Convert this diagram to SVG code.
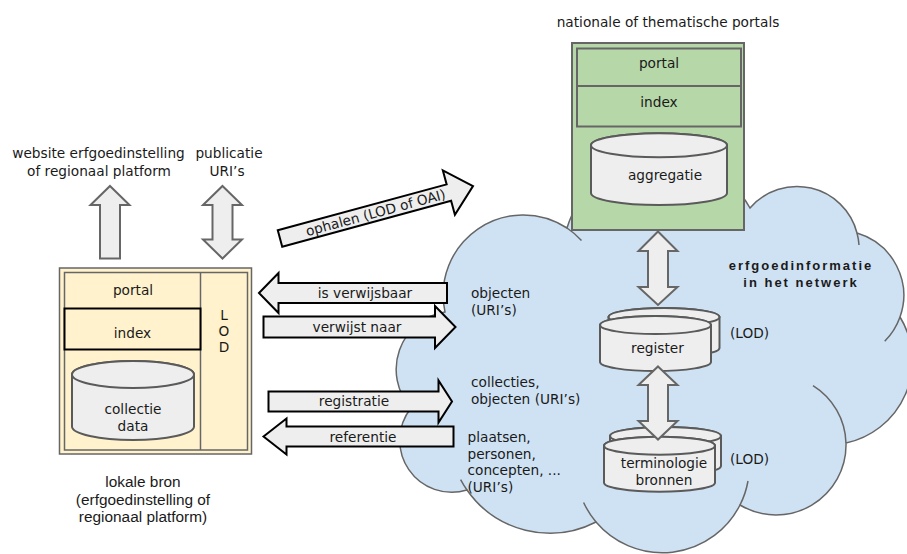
<svg xmlns="http://www.w3.org/2000/svg" width="907" height="554" viewBox="0 0 907 554">
<style>
.t{font-family:"DejaVu Sans",Verdana,sans-serif;font-size:13.7px;fill:#1a1a1a}
.a{font-family:"Liberation Sans",Arial,sans-serif;fill:#1a1a1a}
.c{text-anchor:middle}
.cloud{fill:#cfe2f3;stroke:#666;stroke-width:1.5}
.stub{fill:none;stroke:#666;stroke-width:1.5}
.garrow{fill:#eeeeee;stroke:#666;stroke-width:2;stroke-linejoin:miter}
.barrow{fill:#eeeeee;stroke:#000;stroke-width:2;stroke-linejoin:miter}
.cyl{fill:#eeeeee;stroke:#5a5a5a;stroke-width:2}
.green{fill:#b6d7a8;stroke:#666;stroke-width:2}
.cream{fill:#fff2cc;stroke:#666;stroke-width:1.5}
</style>
<rect width="907" height="554" fill="#fff"/>

<g id="cloud">
<path class="cloud" d="M445,312 A80,80 0 0 1 567,228 A100,100 0 0 1 750,208 A62,62 0 0 1 857,233 A65,65 0 0 1 900,317 A84,84 0 0 1 846,443 A70,70 0 0 1 740,505 A87,87 0 0 1 596,522 A101,101 0 0 1 467,490 A52,52 0 0 1 411,408 A58,58 0 0 1 445,312 Z"/>
<path class="stub" d="M567,228 A80,80 0 0 1 581.5,240.5 M857,233 A62,62 0 0 1 859,245 M900,317 A65,65 0 0 1 884.7,341.3 M813,385.6 A70,70 0 0 1 846,443 M748,481 A87,87 0 0 1 740,505 M596,522 A87,87 0 0 1 583.6,502.5 M467,490 A101,101 0 0 1 460.6,479.6"/>
<text class="a c" x="801" y="270" style="font-size:13px;font-weight:bold;letter-spacing:2px">erfgoedinformatie</text>
<text class="a c" x="801" y="287" style="font-size:13px;font-weight:bold;letter-spacing:2px">in het netwerk</text>
<text class="t" x="471" y="298">objecten</text>
<text class="t" x="471" y="314.5">(URI’s)</text>
<text class="t" x="471" y="387">collecties,</text>
<text class="t" x="471" y="403.5">objecten (URI’s)</text>
<text class="t" x="467.5" y="442">plaatsen,</text>
<text class="t" x="467.5" y="458.7">personen,</text>
<text class="t" x="467.5" y="475.3">concepten, ...</text>
<text class="t" x="467.5" y="492">(URI’s)</text>
<text class="t" x="730" y="337.5">(LOD)</text>
<text class="t" x="730" y="464">(LOD)</text>
</g>

<g id="portals">
<text class="t c" x="668" y="27">nationale of thematische portals</text>
<rect class="green" x="572" y="43" width="172" height="187"/>
<rect class="green" x="577" y="48.5" width="164" height="37.5"/>
<rect class="green" x="577" y="86" width="164" height="40.5"/>
<path class="cyl" d="M591,145.3 V193 A68,12 0 0 0 727,193 V145.3 A68,12 0 0 0 591,145.3 Z"/>
<ellipse class="cyl" cx="659" cy="145.3" rx="68" ry="12"/>
<text class="t c" x="659" y="68">portal</text>
<text class="t c" x="659" y="107">index</text>
<text class="t c" x="665" y="180">aggregatie</text>
</g>

<g id="lokale-bron">
<rect class="cream" x="59.5" y="268" width="192" height="186"/>
<rect class="cream" x="64.5" y="272.5" width="183" height="177.5"/>
<line x1="200.5" y1="272.5" x2="200.5" y2="450" stroke="#666" stroke-width="1.5"/>
<rect x="64.5" y="308.5" width="136" height="41" fill="#fff2cc" stroke="#000" stroke-width="2"/>
<path class="cyl" d="M72,374.5 V426.5 A61,13.5 0 0 0 194,426.5 V374.5 A61,13.5 0 0 0 72,374.5 Z"/>
<ellipse class="cyl" cx="133" cy="374.5" rx="61" ry="13.5"/>
<text class="t c" x="133" y="295">portal</text>
<text class="t c" x="132.5" y="337.5">index</text>
<text class="t c" x="133" y="414">collectie</text>
<text class="t c" x="133" y="431">data</text>
<text class="t c" x="224" y="320">L</text>
<text class="t c" x="224" y="336">O</text>
<text class="t c" x="224" y="352">D</text>
<text class="a c" x="143" y="487" style="font-size:15.4px">lokale bron</text>
<text class="a c" x="143" y="504.5" style="font-size:15.4px">(erfgoedinstelling of</text>
<text class="a c" x="143" y="522" style="font-size:15.4px">regionaal platform)</text>
</g>

<g id="website">
<text class="t c" x="98.5" y="158">website erfgoedinstelling</text>
<text class="t c" x="99" y="175.7">of regionaal platform</text>
</g>
<g id="publicatie">
<text class="t c" x="229" y="158">publicatie</text>
<text class="t c" x="227" y="175.7">URI’s</text>
</g>

<g id="register">
<path class="cyl" d="M608.5,317 V348 A55.5,9 0 0 0 719.5,348 V317 A55.5,9 0 0 0 608.5,317 Z"/>
<ellipse class="cyl" cx="664" cy="317" rx="55.5" ry="9"/>
<path class="cyl" d="M600,325 V362 A55.5,9 0 0 0 711,362 V325 A55.5,9 0 0 0 600,325 Z"/>
<ellipse class="cyl" cx="655.5" cy="325" rx="55.5" ry="9"/>
<text class="t c" x="657.5" y="353">register</text>
</g>

<g id="terminologie">
<path class="cyl" d="M610,436 V466 A55.5,9 0 0 0 721,466 V436 A55.5,9 0 0 0 610,436 Z"/>
<ellipse class="cyl" cx="665.5" cy="436" rx="55.5" ry="9"/>
<path class="cyl" d="M604,445.7 V482.7 A55.5,9 0 0 0 715,482.7 V445.7 A55.5,9 0 0 0 604,445.7 Z"/>
<ellipse class="cyl" cx="659.5" cy="445.7" rx="55.5" ry="9"/>
<text class="t c" x="664" y="468.3">terminologie</text>
<text class="t c" x="664" y="485">bronnen</text>
</g>

<g id="connectors">
<polygon class="garrow" points="110,186 129.5,205 120,205 120,258.5 100,258.5 100,205 90.5,205"/>
<polygon class="garrow" points="222.5,186 242,205 232.5,205 232.5,239.5 242,239.5 222.5,258.5 203,239.5 212.5,239.5 212.5,205 203,205"/>
<polygon class="garrow" points="658,231.5 677.5,251 668,251 668,287 677.5,287 658,305 638.5,287 648,287 648,251 638.5,251"/>
<polygon class="garrow" points="658,366.5 677.5,385 668,385 668,421 677.5,421 658,439.5 638.5,421 648,421 648,385 638.5,385"/>
<g transform="translate(280,238.5) rotate(-15.2)">
<polygon class="barrow" points="0,-8.5 175,-8.5 175,-23 200,0 175,23 175,8.5 0,8.5"/>
<text class="t c" x="99" y="5">ophalen (LOD of OAI)</text>
</g>
<polygon class="barrow" points="259,293 278.5,273 278.5,283 447,283 447,303 278.5,303 278.5,313"/>
<text class="t c" x="365" y="298">is verwijsbaar</text>
<polygon class="barrow" points="263.5,316.5 435,316.5 435,306 455.5,327 435,348 435,337.5 263.5,337.5"/>
<text class="t c" x="357" y="331.5">verwijst naar</text>
<polygon class="barrow" points="268.5,391.5 438.5,391.5 438.5,380.5 452,401.5 438.5,422.5 438.5,411.5 268.5,411.5"/>
<text class="t c" x="354" y="406">registratie</text>
<polygon class="barrow" points="263.5,436.5 286.5,418.5 286.5,426.5 453.5,426.5 453.5,446.5 286.5,446.5 286.5,454.5"/>
<text class="t c" x="363" y="441.5">referentie</text>
</g>
</svg>
